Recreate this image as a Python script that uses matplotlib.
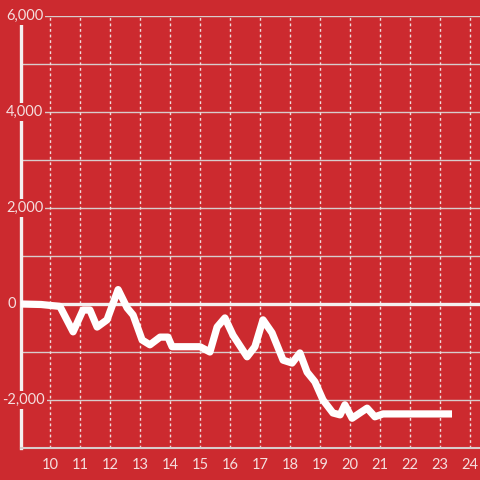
import matplotlib.pyplot as plt
import matplotlib.transforms as mtransforms

# Hour of day and cumulative value
hours = [9.03, 9.7, 10.33, 10.77, 11.1, 11.33, 11.57, 11.9, 12.27, 12.57, 12.77,
         13.07, 13.33, 13.67, 13.93, 14.07, 15.0, 15.33, 15.57, 15.83, 16.1,
         16.57, 16.83, 17.1, 17.4, 17.77, 18.07, 18.33, 18.57, 18.83, 19.1,
         19.43, 19.67, 19.83, 20.07, 20.33, 20.57, 20.83, 21.1, 23.4]
values = [0, -10, -50, -580, -125, -125, -480, -330, 300, -80, -230,
          -750, -850, -690, -690, -890, -890, -1000, -480, -290, -650,
          -1100, -890, -330, -600, -1170, -1230, -1020, -1420, -1620, -2000,
          -2270, -2310, -2100, -2380, -2270, -2170, -2350, -2290, -2290]

x_ticks = list(range(10, 25))
y_ticks = [6000, 4000, 2000, 0, -2000]
y_labels = ['6,000', '4,000', '2,000', '0', '-2,000']

bg = '#cc2a2f'
txt = '#f4dede'

fig = plt.figure(figsize=(4.8, 4.8), dpi=100, facecolor=bg)
ax = fig.add_axes([21 / 480, 32 / 480, 459 / 480, 432 / 480])
ax.set_facecolor(bg)

ax.set_xlim(9.033, 24.333)
ax.set_ylim(-3000, 6000)

# horizontal grid (solid) and vertical grid (dotted)
for y in range(-2000, 7000, 1000):
    if y != 0:
        ax.axhline(y, color='#d8cccc', lw=1.0, zorder=1)
for x in x_ticks:
    ax.axvline(x, color='#f0dcdc', lw=1.0, ls=(0, (2, 2)), zorder=1)
ax.axhline(0, color='#f4f0f0', lw=2.4, zorder=2)

ax.plot(hours, values, color='white', lw=5.2, solid_joinstyle='round',
        solid_capstyle='butt', zorder=3)

for side in ['top', 'right']:
    ax.spines[side].set_visible(False)
ax.spines['left'].set_color('#f4f0f0')
ax.spines['left'].set_linewidth(2.4)
ax.spines['bottom'].set_color('#d8cccc')
ax.spines['bottom'].set_linewidth(1.5)

ax.set_xticks(x_ticks)
ax.set_xticklabels([str(x) for x in x_ticks], color=txt, fontsize=10.5,
                   fontfamily='Lato')
ax.tick_params(axis='x', length=0, pad=7)
ax.set_yticks([])

# y labels drawn over the axis line with a red box behind
trans = mtransforms.offset_copy(ax.get_yaxis_transform(), fig=fig, x=-15, y=0,
                                units='dots')
for y, lab in zip(y_ticks, y_labels):
    dx = -4 if lab.startswith('-') else (2 if lab == '0' else 0)
    t = mtransforms.offset_copy(trans, fig=fig, x=dx, y=0, units='dots')
    ax.text(0, y, lab, transform=t, ha='left', va='center', color=txt,
            fontsize=10.5, fontfamily='Lato', zorder=5, clip_on=False,
            bbox=dict(facecolor=bg, edgecolor='none', pad=1.5))

fig.savefig('out.png', dpi=100, facecolor=bg)
